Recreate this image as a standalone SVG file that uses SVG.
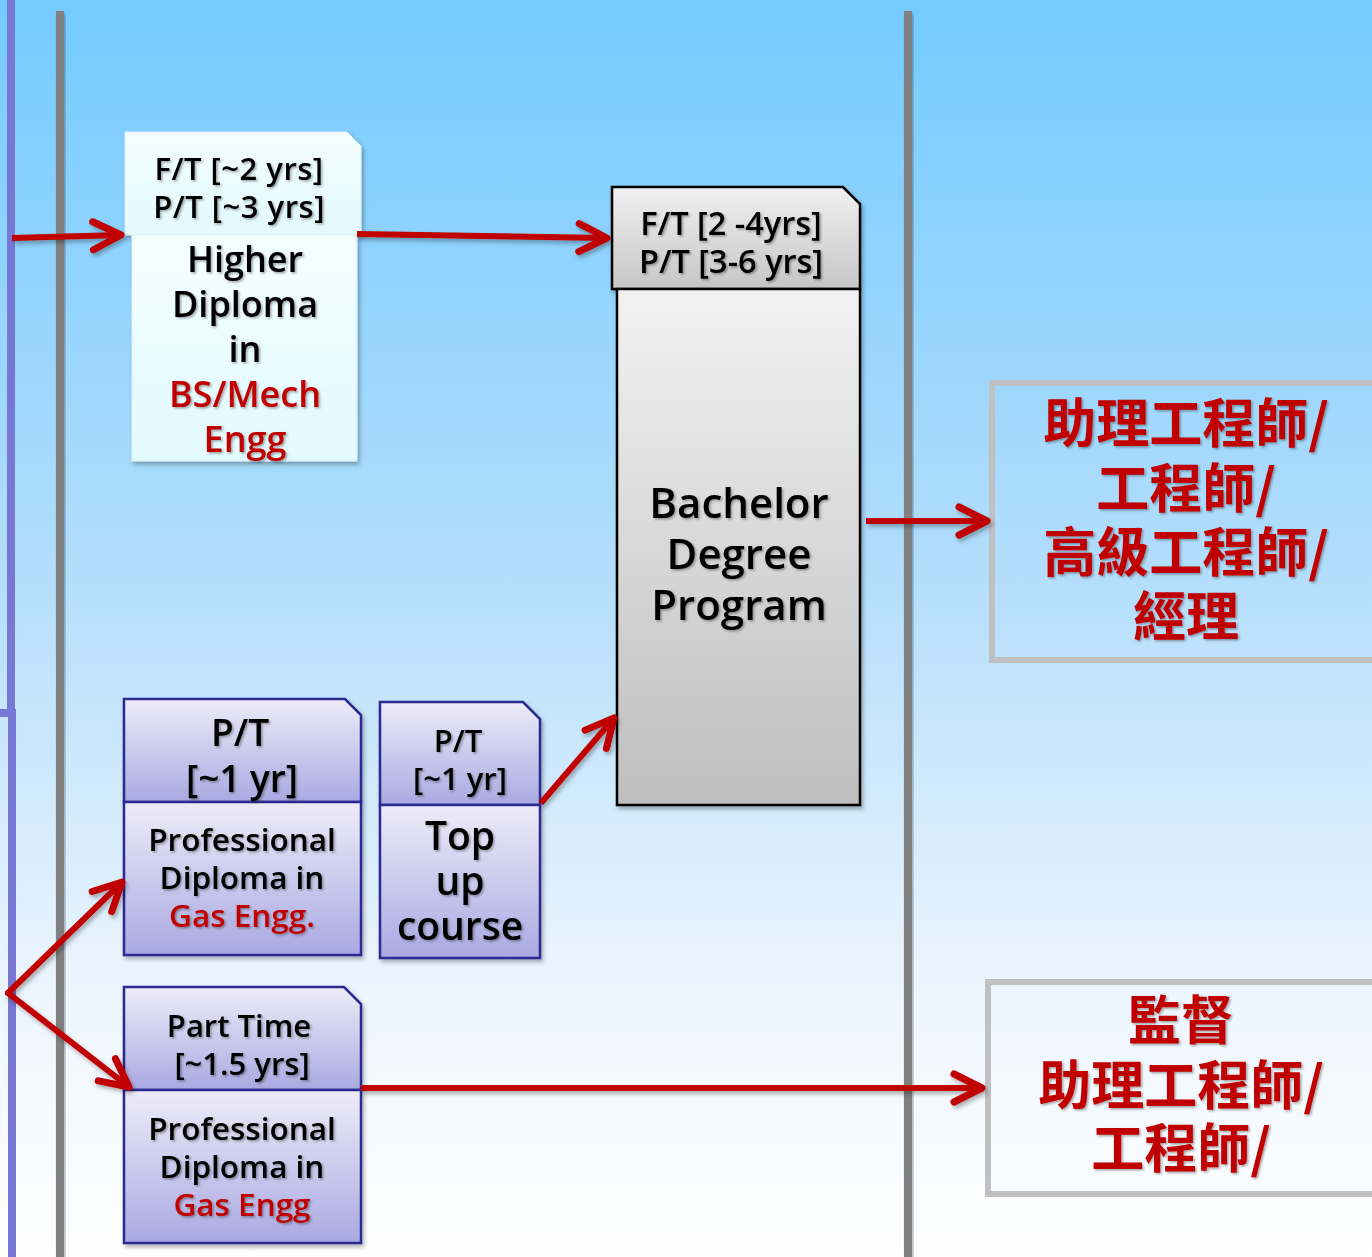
<svg xmlns="http://www.w3.org/2000/svg" width="1372" height="1257" viewBox="0 0 1372 1257">
<defs>
<linearGradient id="bg" x1="0" y1="0" x2="0" y2="1">
<stop offset="0" stop-color="#74CBFF"/>
<stop offset="0.45" stop-color="#B2DDFB"/>
<stop offset="0.8" stop-color="#EEF6FE"/>
<stop offset="1" stop-color="#FFFFFF"/>
</linearGradient>
<linearGradient id="cyan" x1="0" y1="0" x2="0" y2="1">
<stop offset="0" stop-color="#F4FEFF"/>
<stop offset="1" stop-color="#E2FAFE"/>
</linearGradient>
<linearGradient id="grayH" x1="0" y1="0" x2="0" y2="1">
<stop offset="0" stop-color="#F0F0F0"/>
<stop offset="1" stop-color="#C6C6C6"/>
</linearGradient>
<linearGradient id="grayB" x1="0" y1="0" x2="0" y2="1">
<stop offset="0" stop-color="#F2F2F2"/>
<stop offset="1" stop-color="#BEBEBE"/>
</linearGradient>
<linearGradient id="purp" x1="0" y1="0" x2="0" y2="1">
<stop offset="0" stop-color="#EEECF8"/>
<stop offset="1" stop-color="#A9A9E2"/>
</linearGradient>
<filter id="sh" x="-10%" y="-10%" width="130%" height="130%">
<feDropShadow dx="2" dy="3" stdDeviation="2" flood-color="#000" flood-opacity="0.3"/>
</filter>
<filter id="tsh" x="-10%" y="-10%" width="130%" height="130%">
<feDropShadow dx="1.5" dy="1.5" stdDeviation="1" flood-color="#000" flood-opacity="0.35"/>
</filter>
<marker id="ah" markerUnits="userSpaceOnUse" viewBox="-36 -22 42 44" refX="0" refY="0" markerWidth="42" markerHeight="44" orient="auto">
<path d="M-28,-14 L0,0 L-28,14" fill="none" stroke="#C00000" stroke-width="7" stroke-linecap="round" stroke-linejoin="round"/>
</marker>
<style>
.t{font-family:"Open Sans","Noto Sans","Noto Sans CJK TC",sans-serif;font-weight:600;fill:#000;text-anchor:middle;filter:url(#tsh)}
.r{fill:#C00000}
.cjk{font-family:"Noto Sans CJK TC",sans-serif;font-weight:bold;fill:#C00000;text-anchor:middle;filter:url(#tsh)}
.ar{fill:none;stroke:#C00000;stroke-width:6}
.pb{fill:url(#purp);stroke:#2B2B90;stroke-width:2.5}
.gb{stroke:#000;stroke-width:2.5}
.out{fill:none;stroke:#C0C0C0;stroke-width:6}
</style>
</defs>
<rect x="0" y="0" width="1372" height="1257" fill="url(#bg)"/>
<g id="lanes">
<rect x="7" y="0" width="8" height="714" fill="#7777D4"/>
<rect x="0" y="709" width="15" height="8" fill="#7777D4"/>
<rect x="8" y="709" width="8" height="548" fill="#7777D4"/>
<rect x="56" y="11" width="8" height="1246" fill="#808080" filter="url(#sh)"/>
<rect x="904" y="11" width="8" height="1246" fill="#808080" filter="url(#sh)"/>
</g>
<g id="higher-diploma">
<g filter="url(#sh)">
<path d="M125,132 H347 L361,146 V235 H125 Z" fill="url(#cyan)" stroke="#DDEFF2" stroke-width="1"/>
<rect x="132" y="235" width="225" height="226" fill="url(#cyan)" stroke="#DDEFF2" stroke-width="1"/>
</g>
<text class="t" x="239" y="180" font-size="31" letter-spacing="0.5">F/T [~2 yrs]</text>
<text class="t" x="239" y="218" font-size="31" letter-spacing="0.5">P/T [~3 yrs]</text>
<text class="t" x="245" y="272" font-size="36">Higher</text>
<text class="t" x="245" y="317" font-size="36">Diploma</text>
<text class="t" x="245" y="362" font-size="36">in</text>
<text class="t r" x="245" y="407" font-size="36">BS/Mech</text>
<text class="t r" x="245" y="452" font-size="36">Engg</text>
</g>
<g id="bachelor">
<g filter="url(#sh)">
<path d="M612,187 H843 L860,204 V289 H612 Z" class="gb" fill="url(#grayH)"/>
<rect x="617" y="289" width="243" height="516" class="gb" fill="url(#grayB)"/>
</g>
<text class="t" x="731" y="235" font-size="32.5">F/T [2 -4yrs]</text>
<text class="t" x="731" y="273" font-size="32.5">P/T [3-6 yrs]</text>
<text class="t" x="739" y="518" font-size="42">Bachelor</text>
<text class="t" x="739" y="569" font-size="42">Degree</text>
<text class="t" x="739" y="620" font-size="42">Program</text>
</g>
<g id="pd1">
<g filter="url(#sh)">
<path d="M124,699 H345 L361,715 V802 H124 Z" class="pb"/>
<rect x="124" y="802" width="237" height="153" class="pb"/>
</g>
<text class="t" x="240" y="746" font-size="37">P/T</text>
<text class="t" x="242" y="792" font-size="37">[~1 yr]</text>
<text class="t" x="242" y="851" font-size="31.5">Professional</text>
<text class="t" x="242" y="889" font-size="31.5">Diploma in</text>
<text class="t r" x="242" y="927" font-size="31.5">Gas Engg.</text>
</g>
<g id="topup">
<g filter="url(#sh)">
<path d="M380,702 H523 L540,719 V805 H380 Z" class="pb"/>
<rect x="380" y="805" width="160" height="153" class="pb"/>
</g>
<text class="t" x="458" y="752" font-size="31">P/T</text>
<text class="t" x="460" y="790" font-size="31">[~1 yr]</text>
<text class="t" x="460" y="850" font-size="39">Top</text>
<text class="t" x="460" y="895" font-size="39">up</text>
<text class="t" x="460" y="940" font-size="39">course</text>
</g>
<g id="pd2">
<g filter="url(#sh)">
<path d="M124,987 H344 L361,1004 V1090 H124 Z" class="pb"/>
<rect x="124" y="1090" width="237" height="153" class="pb"/>
</g>
<text class="t" x="239" y="1037" font-size="31">Part Time</text>
<text class="t" x="242" y="1075" font-size="31">[~1.5 yrs]</text>
<text class="t" x="242" y="1140" font-size="31.5">Professional</text>
<text class="t" x="242" y="1178" font-size="31.5">Diploma in</text>
<text class="t r" x="242" y="1216" font-size="31.5">Gas Engg</text>
</g>
<g id="career1">
<rect x="992" y="383" width="390" height="277" class="out"/>
<text class="cjk" x="1186" y="443" font-size="53">助理工程師/</text>
<text class="cjk" x="1186" y="508" font-size="53">工程師/</text>
<text class="cjk" x="1186" y="572" font-size="53">高級工程師/</text>
<text class="cjk" x="1186" y="636" font-size="53">經理</text>
</g>
<g id="career2">
<rect x="988" y="982" width="394" height="212" class="out"/>
<text class="cjk" x="1181" y="1040" font-size="53">監督</text>
<text class="cjk" x="1181" y="1105" font-size="53">助理工程師/</text>
<text class="cjk" x="1181" y="1168" font-size="53">工程師/</text>
</g>
<g id="connectors" filter="url(#sh)">
<line class="ar" x1="12" y1="238" x2="121" y2="235" marker-end="url(#ah)"/>
<line class="ar" x1="357" y1="234" x2="607" y2="238" marker-end="url(#ah)"/>
<line class="ar" x1="541" y1="803" x2="614" y2="718" marker-end="url(#ah)"/>
<line class="ar" x1="866" y1="521" x2="987" y2="521" marker-end="url(#ah)"/>
<line class="ar" x1="8" y1="993" x2="122" y2="882" marker-end="url(#ah)" stroke-linecap="round"/>
<line class="ar" x1="8" y1="993" x2="129" y2="1087" marker-end="url(#ah)" stroke-linecap="round"/>
<line class="ar" x1="361" y1="1088" x2="982" y2="1088" marker-end="url(#ah)"/>
</g>
</svg>
